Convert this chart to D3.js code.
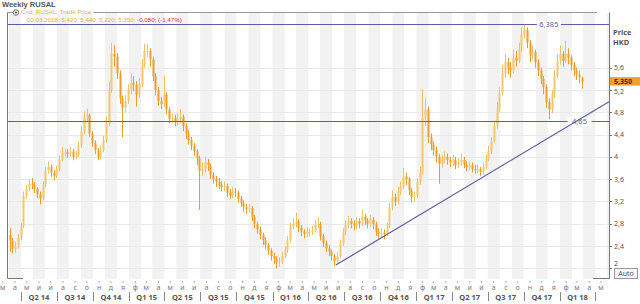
<!DOCTYPE html>
<html>
<head>
<meta charset="utf-8">
<script src="https://cdnjs.cloudflare.com/ajax/libs/d3/7.8.5/d3.min.js"></script>
<style>
	body { margin: 0; background: #fff; }
	svg { display: block; font-family: "Noto Sans", "DejaVu Sans", sans-serif; }
	.head { font-family: "Liberation Sans", Arial, sans-serif; }
</style>
</head>
<body>
<svg class="chart"></svg>
<script>
// weekly candles, 07.03.2014 .. 02.03.2018 (week ending friday)
var firstWeek = "2014-03-07",
	lastWeek = "2018-03-02";

var opens = [
	2.60,2.50,2.35,2.40,2.55,2.75,3.30,3.42,3.52,3.50,
	3.42,3.33,3.25,3.50,3.75,3.82,3.72,3.66,3.78,3.95,
	4.08,4.08,4.05,4.10,4.00,4.03,4.20,4.45,4.72,4.75,
	4.42,4.25,4.12,4.00,4.12,4.30,4.60,5.20,5.85,5.80,
	5.50,5.05,4.88,5.00,5.20,5.33,5.30,5.12,5.30,5.65,
	5.90,5.90,5.75,5.45,5.20,5.00,4.95,5.12,4.85,4.68,
	4.70,4.62,4.68,4.72,4.55,4.42,4.30,4.20,4.10,3.98,
	3.75,3.78,3.90,3.85,3.68,3.60,3.55,3.50,3.46,3.48,
	3.36,3.31,3.38,3.36,3.25,3.17,3.10,3.07,3.08,2.92,
	2.80,2.70,2.60,2.50,2.42,2.32,2.22,2.17,2.10,2.12,
	2.22,2.32,2.50,2.75,2.80,2.84,2.73,2.66,2.62,2.65,
	2.65,2.68,2.78,2.80,2.58,2.45,2.36,2.30,2.22,2.13,
	2.22,2.45,2.65,2.78,2.85,2.80,2.76,2.85,2.80,2.93,
	2.86,2.80,2.87,2.80,2.66,2.62,2.64,2.62,2.75,3.10,
	3.28,3.20,3.38,3.47,3.65,3.60,3.40,3.28,3.30,3.55,
	3.72,4.70,4.85,4.35,4.22,4.12,4.00,3.88,3.95,4.00,
	3.94,3.90,3.95,3.85,3.90,3.95,3.86,3.82,3.85,3.78,
	3.77,3.78,3.73,3.82,3.97,4.10,4.28,4.55,4.85,5.15,
	5.50,5.70,5.60,5.55,5.78,5.72,5.92,6.20,6.28,6.05,
	5.82,5.88,5.70,5.55,5.40,5.25,4.98,4.85,5.12,5.45,
	5.72,5.85,5.72,5.85,5.78,5.65,5.55,5.48,5.42
];

var highs = [
	2.72,2.55,2.48,2.62,2.82,3.38,3.50,3.60,3.62,3.55,
	3.46,3.38,3.56,3.82,3.92,3.86,3.76,3.84,4.02,4.18,
	4.15,4.14,4.18,4.14,4.10,4.28,4.55,4.82,4.86,4.78,
	4.46,4.30,4.16,4.20,4.38,4.72,5.35,6.05,6.00,5.86,
	5.55,5.10,5.10,5.30,5.50,5.45,5.36,5.42,5.75,6.03,
	6.02,5.95,5.80,5.50,5.25,5.08,5.46,5.16,4.90,4.78,
	4.76,4.78,4.86,4.76,4.60,4.48,4.36,4.25,4.14,4.02,
	3.90,4.00,3.96,3.88,3.72,3.66,3.62,3.56,3.56,3.52,
	3.42,3.46,3.44,3.40,3.30,3.22,3.16,3.16,3.12,2.96,
	2.84,2.75,2.64,2.56,2.46,2.36,2.28,2.22,2.20,2.30,
	2.40,2.58,2.82,2.90,3.00,2.88,2.78,2.70,2.74,2.72,
	2.76,2.86,2.92,2.84,2.62,2.50,2.42,2.34,2.26,2.30,
	2.52,2.72,2.86,2.94,2.90,2.86,2.92,2.90,3.05,2.98,
	2.90,2.96,2.92,2.84,2.72,2.72,2.70,2.82,3.18,3.40,
	3.34,3.46,3.56,3.80,3.72,3.64,3.44,3.38,3.62,3.82,
	5.22,5.05,4.90,4.42,4.28,4.18,4.05,4.04,4.10,4.06,
	4.00,4.04,4.00,3.98,4.06,4.00,3.92,3.92,3.90,3.85,
	3.86,3.82,3.90,4.04,4.20,4.36,4.65,4.98,5.25,5.65,
	5.85,5.78,5.70,5.92,5.90,6.05,6.33,6.385,6.32,6.10,
	6.00,5.92,5.75,5.60,5.45,5.30,5.05,5.20,5.55,5.85,
	6.00,5.90,6.08,5.95,5.82,5.70,5.60,5.55,5.44
];

var lows = [
	2.30,2.27,2.28,2.36,2.50,2.72,3.25,3.38,3.42,3.35,
	3.26,3.15,3.22,3.46,3.70,3.64,3.58,3.62,3.74,3.92,
	4.00,3.98,4.00,3.94,3.95,4.00,4.16,4.40,4.62,4.36,
	4.18,4.05,3.94,3.96,4.08,4.26,4.55,5.15,5.62,5.40,
	4.95,4.35,4.80,4.95,5.12,5.18,4.90,5.06,5.25,5.60,
	5.78,5.62,5.36,5.10,4.92,4.86,4.90,4.76,4.60,4.60,
	4.55,4.56,4.60,4.46,4.32,4.22,4.12,4.02,3.85,3.05,
	3.66,3.72,3.75,3.60,3.52,3.46,3.42,3.38,3.38,3.28,
	3.24,3.26,3.28,3.18,3.10,3.02,2.98,3.00,2.85,2.72,
	2.62,2.52,2.42,2.34,2.24,2.14,2.08,2.00,2.03,2.08,
	2.18,2.28,2.46,2.70,2.74,2.65,2.58,2.54,2.56,2.57,
	2.60,2.64,2.72,2.50,2.38,2.30,2.22,2.14,2.04,2.08,
	2.18,2.40,2.60,2.72,2.72,2.68,2.70,2.72,2.76,2.78,
	2.72,2.74,2.70,2.58,2.54,2.55,2.52,2.58,2.72,3.04,
	3.12,3.15,3.32,3.42,3.50,3.32,3.18,3.20,3.26,3.50,
	3.68,4.55,4.25,4.12,4.02,3.90,3.52,3.80,3.88,3.86,
	3.82,3.84,3.78,3.80,3.84,3.80,3.74,3.76,3.72,3.70,
	3.70,3.66,3.68,3.78,3.92,4.05,4.24,4.50,4.80,5.10,
	5.42,5.48,5.42,5.50,5.62,5.68,5.88,6.12,5.95,5.70,
	5.74,5.60,5.45,5.30,5.12,4.88,4.68,4.78,5.06,5.40,
	5.65,5.62,5.68,5.66,5.55,5.45,5.38,5.32,5.22
];

var closes = [
	2.50,2.35,2.40,2.55,2.75,3.30,3.42,3.52,3.50,3.42,
	3.33,3.25,3.50,3.75,3.82,3.72,3.66,3.78,3.95,4.08,
	4.08,4.05,4.10,4.00,4.03,4.20,4.45,4.72,4.75,4.42,
	4.25,4.12,4.00,4.12,4.30,4.60,5.20,5.85,5.80,5.50,
	5.05,4.88,5.00,5.20,5.33,5.30,5.12,5.30,5.65,5.90,
	5.90,5.75,5.45,5.20,5.00,4.95,5.12,4.85,4.68,4.70,
	4.62,4.68,4.72,4.55,4.42,4.30,4.20,4.10,3.98,3.75,
	3.78,3.90,3.85,3.68,3.60,3.55,3.50,3.46,3.48,3.36,
	3.31,3.38,3.36,3.25,3.17,3.10,3.07,3.08,2.92,2.80,
	2.70,2.60,2.50,2.42,2.32,2.22,2.17,2.10,2.12,2.22,
	2.32,2.50,2.75,2.80,2.84,2.73,2.66,2.62,2.65,2.65,
	2.68,2.78,2.80,2.58,2.45,2.36,2.30,2.22,2.13,2.22,
	2.45,2.65,2.78,2.85,2.80,2.76,2.85,2.80,2.93,2.86,
	2.80,2.87,2.80,2.66,2.62,2.64,2.62,2.75,3.10,3.28,
	3.20,3.38,3.47,3.65,3.60,3.40,3.28,3.30,3.55,3.72,
	4.70,4.85,4.35,4.22,4.12,4.00,3.88,3.95,4.00,3.94,
	3.90,3.95,3.85,3.90,3.95,3.86,3.82,3.85,3.78,3.77,
	3.78,3.73,3.82,3.97,4.10,4.28,4.55,4.85,5.15,5.50,
	5.70,5.60,5.55,5.78,5.72,5.92,6.20,6.28,6.05,5.82,
	5.88,5.70,5.55,5.40,5.25,4.98,4.85,5.12,5.45,5.72,
	5.85,5.72,5.85,5.78,5.65,5.55,5.48,5.43,5.35
];

var priceTicks = [2, 2.4, 2.8, 3.2, 3.6, 4, 4.4, 4.8, 5.2, 5.6];
var monthLetters = ["я", "ф", "м", "а", "м", "и", "и", "а", "с", "о", "н", "д"];
var quarterLabels = ["Q2 14", "Q3 14", "Q4 14", "Q1 15", "Q2 15", "Q3 15", "Q4 15", "Q1 16",
	"Q2 16", "Q3 16", "Q4 16", "Q1 17", "Q2 17", "Q3 17", "Q4 17", "Q1 18"];

var levels = [6.385, 4.65],
	levelLabels = ["6,385", "4,65"],
	levelLabelDates = ["2017-12-04", "2018-02-20"];

var trendDates = ["2016-06-10", "2018-05-06"],
	trendValues = [2.06, 4.99];

var legendName = "Cnd; RUSAL; Trade Price",
	legendValues = "02.03.2018; 5,420; 5,440; 5,220; 5,350; ",
	legendChange = "-0,080; (-1,47%)",
	lastPrice = "5,350";

function createChart() {

	var svgWidth = 640,
		svgHeight = 304;

	var chart = d3.select( ".chart" )
		.attr( "width", svgWidth )
		.attr( "height", svgHeight );

	var left = 8, right = 609,
		top = 13, bottom = 279;

	var parse = d3.timeParse( "%Y-%m-%d" );

	var x = d3.scaleTime()
		.domain( [ new Date( 2014, 1, 27 ), new Date( 2018, 4, 6 ) ] )
		.range( [ left, right ] );

	var y = d3.scaleLinear()
		.domain( [ 1.81, 6.58 ] )
		.range( [ bottom, top ] );

	var comma = function( v ) { return String( v ).replace( ".", "," ); };

	// week list
	var fridays = d3.timeFriday.range( parse( firstWeek ), d3.timeDay.offset( parse( lastWeek ), 1 ) );
	var weeks = fridays.map( function( d, i ) {
		return { date: d, o: opens[i], h: highs[i], l: lows[i], c: closes[i] };
	} );

	// month bands
	var months = d3.timeMonth.range( new Date( 2014, 1, 1 ), new Date( 2018, 5, 1 ) );
	chart.append( "g" )
		.selectAll( "rect" )
		.data( months.filter( function( m ) { return m.getMonth() % 2 === 0; } ) )
		.enter().append( "rect" )
		.attr( "x", function( m ) { return Math.max( left, x( m ) ); } )
		.attr( "width", function( m ) {
			return Math.min( right, x( d3.timeMonth.offset( m, 1 ) ) ) - Math.max( left, x( m ) );
		} )
		.attr( "y", top )
		.attr( "height", bottom - top )
		.attr( "fill", "#f2f2f2" );

	// horizontal grid
	chart.append( "g" )
		.selectAll( "line" )
		.data( priceTicks )
		.enter().append( "line" )
		.attr( "x1", left ).attr( "x2", right )
		.attr( "y1", function( d ) { return Math.round( y( d ) ) + 0.5; } )
		.attr( "y2", function( d ) { return Math.round( y( d ) ) + 0.5; } )
		.attr( "stroke", "#e9e9e9" );

	// candles
	var cx = function( d ) { return x( d3.timeDay.offset( d.date, -4 ) ); };
	var candles = chart.append( "g" )
		.selectAll( "g" )
		.data( weeks )
		.enter().append( "g" );

	candles.append( "line" )
		.attr( "x1", function( d ) { return Math.round( cx( d ) ) + 0.5; } )
		.attr( "x2", function( d ) { return Math.round( cx( d ) ) + 0.5; } )
		.attr( "y1", function( d ) { return y( d.h ); } )
		.attr( "y2", function( d ) { return y( d.l ); } )
		.attr( "stroke", function( d ) { return d.c >= d.o ? "#efc163" : "#eb9d2c"; } );

	candles.append( "rect" )
		.attr( "x", function( d ) { return Math.round( cx( d ) ) - 0.5; } )
		.attr( "width", 2 )
		.attr( "y", function( d ) { return y( Math.max( d.o, d.c ) ); } )
		.attr( "height", function( d ) { return Math.max( 1, Math.abs( y( d.o ) - y( d.c ) ) ); } )
		.attr( "fill", function( d ) { return d.c >= d.o ? "#f3c86a" : "#ee9e28"; } );

	// levels
	var levelColor = "#5d5da0";
	levels.forEach( function( v, i ) {
		var ly = Math.round( y( v ) ) + 0.5;
		chart.append( "line" )
			.attr( "x1", left ).attr( "x2", right )
			.attr( "y1", ly ).attr( "y2", ly )
			.attr( "stroke", levelColor )
			.attr( "stroke-width", 1.2 );
		var lx = x( parse( levelLabelDates[i] ) );
		chart.append( "rect" )
			.attr( "x", lx - 12 ).attr( "y", ly - 4 )
			.attr( "width", 24 ).attr( "height", 8 )
			.attr( "fill", "#fff" );
		chart.append( "text" )
			.attr( "x", lx ).attr( "y", ly )
			.attr( "dy", "0.35em" )
			.attr( "text-anchor", "middle" )
			.attr( "font-size", 7.5 )
			.attr( "fill", levelColor )
			.text( levelLabels[i] );
	} );

	// trend line
	chart.append( "line" )
		.attr( "x1", x( parse( trendDates[0] ) ) ).attr( "y1", y( trendValues[0] ) )
		.attr( "x2", x( parse( trendDates[1] ) ) ).attr( "y2", y( trendValues[1] ) )
		.attr( "stroke", levelColor )
		.attr( "stroke-width", 1.2 );

	// frame
	var frame = "#777";
	chart.append( "path" )
		.attr( "d", "M" + (left - 0.5) + "," + (top - 0.5) + "V" + (bottom - 0.5) + "H" + 23 )
		.attr( "fill", "none" ).attr( "stroke", frame );
	chart.append( "path" )
		.attr( "d", "M" + (right + 0.5) + "," + (top - 0.5) + "V" + (bottom - 0.5) + "H" + 593 )
		.attr( "fill", "none" ).attr( "stroke", frame );

	// right axis
	var yAxis = chart.append( "g" );
	yAxis.selectAll( "line" )
		.data( priceTicks )
		.enter().append( "line" )
		.attr( "x1", right ).attr( "x2", right + 3 )
		.attr( "y1", function( d ) { return Math.round( y( d ) ) + 0.5; } )
		.attr( "y2", function( d ) { return Math.round( y( d ) ) + 0.5; } )
		.attr( "stroke", frame );
	yAxis.selectAll( "text" )
		.data( priceTicks )
		.enter().append( "text" )
		.attr( "x", right + 5 )
		.attr( "y", function( d ) { return y( d ) - ( d === 2 ? 5 : 0 ) + ( d === 5.2 ? 1.5 : 0 ); } )
		.attr( "dy", "0.35em" )
		.attr( "font-size", 7 )
		.attr( "fill", "#555" )
		.text( comma );

	chart.append( "text" )
		.attr( "x", 613 ).attr( "y", 35 )
		.attr( "font-size", 7.5 ).attr( "font-weight", "bold" )
		.attr( "fill", "#555" )
		.text( "Price" );
	chart.append( "text" )
		.attr( "x", 613 ).attr( "y", 45 )
		.attr( "font-size", 7.5 ).attr( "font-weight", "bold" )
		.attr( "fill", "#555" )
		.text( "HKD" );

	// last price marker
	var py = y( closes[closes.length - 1] );
	chart.append( "rect" )
		.attr( "x", right + 1 ).attr( "y", py - 4.5 )
		.attr( "width", 31 ).attr( "height", 8.5 )
		.attr( "fill", "#f0a030" );
	chart.append( "text" )
		.attr( "x", right + 5 ).attr( "y", py - 0.3 )
		.attr( "dy", "0.35em" )
		.attr( "font-size", 7 ).attr( "font-weight", "bold" )
		.attr( "fill", "#333" )
		.text( lastPrice );

	// Auto button
	chart.append( "rect" )
		.attr( "x", 614.5 ).attr( "y", 268.5 )
		.attr( "width", 23 ).attr( "height", 10 )
		.attr( "fill", "#f5f5f5" ).attr( "stroke", "#999" );
	chart.append( "text" )
		.attr( "x", 626 ).attr( "y", 273.5 )
		.attr( "dy", "0.35em" )
		.attr( "text-anchor", "middle" )
		.attr( "font-size", 7 )
		.attr( "fill", "#555" )
		.text( "Auto" );

	// month ticks and letters
	var monthAxis = chart.append( "g" );
	monthAxis.selectAll( "line" )
		.data( months.slice( 1 ) )
		.enter().append( "line" )
		.attr( "x1", function( m ) { return x( m ) - 6; } )
		.attr( "x2", function( m ) { return x( m ) - 6; } )
		.attr( "y1", 281 ).attr( "y2", 283 )
		.attr( "stroke", "#aaa" );
	monthAxis.selectAll( "text" )
		.data( months.slice( 1 ) )
		.enter().append( "text" )
		.attr( "x", function( m ) { return x( m ) - 6; } )
		.attr( "y", 290 )
		.attr( "text-anchor", "middle" )
		.attr( "font-size", 7 )
		.attr( "fill", "#777" )
		.text( function( m ) { return monthLetters[m.getMonth()]; } );

	// quarters
	var quarters = d3.timeMonth.every( 3 ).range( new Date( 2014, 3, 1 ), new Date( 2018, 3, 2 ) );
	chart.append( "g" )
		.selectAll( "line" )
		.data( quarters )
		.enter().append( "line" )
		.attr( "x1", function( q ) { return Math.round( x( q ) ) + 0.5; } )
		.attr( "x2", function( q ) { return Math.round( x( q ) ) + 0.5; } )
		.attr( "y1", 292 ).attr( "y2", 301 )
		.attr( "stroke", "#888" );
	chart.append( "g" )
		.selectAll( "text" )
		.data( quarterLabels )
		.enter().append( "text" )
		.attr( "x", function( q, i ) { return ( x( quarters[i] ) + x( quarters[i + 1] ) ) / 2; } )
		.attr( "y", 299.5 )
		.attr( "text-anchor", "middle" )
		.attr( "font-size", 7.5 ).attr( "font-weight", "bold" )
		.attr( "fill", "#555" )
		.text( function( q ) { return q; } );

	// title and legend
	chart.append( "text" )
		.attr( "class", "head" )
		.attr( "x", 2 ).attr( "y", 6.8 )
		.attr( "font-size", 7.5 ).attr( "font-weight", "bold" )
		.attr( "fill", "#555" )
		.text( "Weekly RUSAL" );

	var headY = top - 0.5;
	chart.append( "line" )
		.attr( "x1", left - 0.5 ).attr( "x2", 13 )
		.attr( "y1", headY ).attr( "y2", headY )
		.attr( "stroke", "#999" );
	chart.append( "circle" )
		.attr( "cx", 16 ).attr( "cy", headY ).attr( "r", 2.8 )
		.attr( "fill", "#e8e8e8" ).attr( "stroke", "#777" );
	chart.append( "circle" )
		.attr( "cx", 16 ).attr( "cy", headY ).attr( "r", 1.1 )
		.attr( "fill", "#666" );
	var name = chart.append( "text" )
		.attr( "class", "head" )
		.attr( "x", 21 ).attr( "y", 14.4 )
		.attr( "font-size", 6.2 )
		.attr( "fill", "#e3b03c" )
		.text( legendName );
	var nameEnd = 21 + name.node().getComputedTextLength() + 2;
	chart.append( "line" )
		.attr( "x1", nameEnd ).attr( "x2", 597 )
		.attr( "y1", headY ).attr( "y2", headY )
		.attr( "stroke", "#999" );

	var info = chart.append( "text" )
		.attr( "class", "head" )
		.attr( "x", 27 ).attr( "y", 21.7 )
		.attr( "font-size", 6.2 );
	info.append( "tspan" ).attr( "fill", "#e3b03c" ).text( legendValues );
	info.append( "tspan" ).attr( "fill", "#cc3333" ).text( legendChange );
}

createChart();
</script>
</body>
</html>
